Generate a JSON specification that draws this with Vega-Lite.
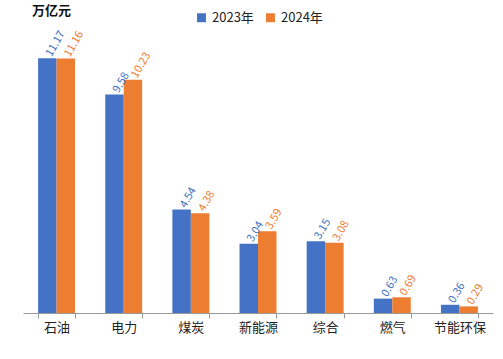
{
  "$schema": "https://vega.github.io/schema/vega-lite/v6.json",
  "width": 470,
  "height": 285,
  "autosize": {"type": "none"},
  "padding": {"left": 23, "top": 28, "right": 10, "bottom": 46},
  "background": "white",
  "title": {"text": "万亿元", "anchor": "start", "frame": "group", "dx": 9, "offset": -7, "fontSize": 13, "fontWeight": "bold", "font": "Noto Sans CJK SC", "color": "#111"},
  "config": {"view": {"stroke": null}, "font": "Noto Sans CJK SC"},
  "data": {"values": [
    {"cat": "石油", "year": "2023年", "v": 11.17},
    {"cat": "石油", "year": "2024年", "v": 11.16},
    {"cat": "电力", "year": "2023年", "v": 9.58},
    {"cat": "电力", "year": "2024年", "v": 10.23},
    {"cat": "煤炭", "year": "2023年", "v": 4.54},
    {"cat": "煤炭", "year": "2024年", "v": 4.38},
    {"cat": "新能源", "year": "2023年", "v": 3.04},
    {"cat": "新能源", "year": "2024年", "v": 3.59},
    {"cat": "综合", "year": "2023年", "v": 3.15},
    {"cat": "综合", "year": "2024年", "v": 3.08},
    {"cat": "燃气", "year": "2023年", "v": 0.63},
    {"cat": "燃气", "year": "2024年", "v": 0.69},
    {"cat": "节能环保", "year": "2023年", "v": 0.36},
    {"cat": "节能环保", "year": "2024年", "v": 0.29}
  ]},
  "encoding": {
    "x": {"field": "cat", "type": "nominal", "sort": null,
      "scale": {"paddingInner": 0.45, "paddingOuter": 0.225},
      "axis": {"title": null, "labelAngle": 0, "labelFontSize": 13, "labelColor": "#222", "labelPadding": 3,
        "domainColor": "#999", "tickColor": "#999", "tickSize": 5, "tickBand": "extent", "grid": false}},
    "xOffset": {"field": "year", "type": "nominal", "sort": ["2023年", "2024年"]},
    "y": {"field": "v", "type": "quantitative", "scale": {"domain": [0, 12.5]}, "axis": null},
    "color": {"field": "year", "type": "nominal",
      "scale": {"domain": ["2023年", "2024年"], "range": ["#4472C4", "#ED7D31"]},
      "legend": {"title": null, "orient": "none", "direction": "horizontal", "legendX": 172, "legendY": -17,
        "symbolType": "square", "symbolSize": 80, "symbolStrokeWidth": 0, "labelFontSize": 13, "labelColor": "#222", "columnPadding": 10, "labelOffset": 4}}
  },
  "layer": [
    {"mark": {"type": "bar"}},
    {"mark": {"type": "text", "angle": 300, "align": "left", "baseline": "middle", "dx": 3, "fontSize": 11},
      "encoding": {"text": {"field": "v", "type": "quantitative", "format": ".2f"}}}
  ]
}
